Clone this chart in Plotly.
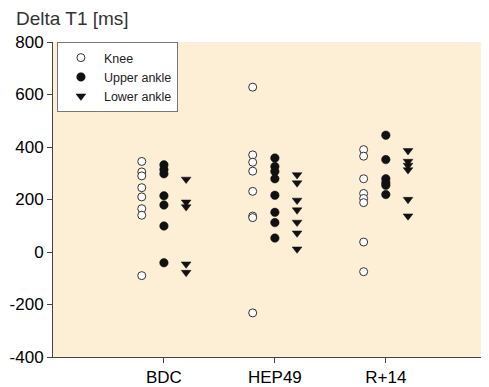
import plotly.graph_objects as go

categories = ["BDC", "HEP49", "R+14"]
y_ticks = [-400, -200, 0, 200, 400, 600, 800]
y_tick_labels = ["-400", "-200", "0", "200", "400", "600", "800"]
knee = [
    [345, 305, 290, 245, 210, 165, 140, -90],
    [628, 370, 342, 308, 231, 137, 131, -232],
    [390, 365, 279, 223, 204, 188, 38, -75],
]
upper_ankle = [
    [332, 314, 298, 214, 179, 99, -41],
    [358, 326, 307, 279, 216, 151, 112, 53],
    [445, 352, 279, 264, 254, 219],
]
lower_ankle = [
    [277, 190, 172, -46, -78],
    [294, 263, 197, 160, 113, 72, 11],
    [386, 345, 330, 313, 200, 137],
]
offsets = {"Knee": -0.2, "Upper ankle": 0.0, "Lower ankle": 0.2}

def flatten(series, off):
    xs, ys = [], []
    for i, vals in enumerate(series):
        xs += [i + off] * len(vals)
        ys += vals
    return xs, ys

fig = go.Figure()
specs = [
    ("Knee", knee, dict(symbol="circle", size=8, color="white", line=dict(color="#333", width=1))),
    ("Upper ankle", upper_ankle, dict(symbol="circle", size=8.5, color="#111", line=dict(color="#111", width=0.5))),
    ("Lower ankle", lower_ankle, dict(symbol="triangle-down", size=8.5, color="#111", line=dict(color="#111", width=0.5))),
]
for name, series, marker in specs:
    xs, ys = flatten(series, offsets[name])
    fig.add_trace(go.Scatter(x=xs, y=ys, mode="markers", name=name, marker=marker))

# page body has an 8px margin; figure is sized/offset to compensate
fig.update_layout(
    width=481, height=379,
    margin=dict(l=45, r=0, t=34, b=26),
    paper_bgcolor="white",
    plot_bgcolor="#FDEFD6",
    font=dict(family="Liberation Sans, Arial, sans-serif", color="black"),
    showlegend=True,
    legend=dict(x=0.009, y=1.0, xanchor="left", yanchor="top",
                bgcolor="white", bordercolor="#777", borderwidth=1,
                font=dict(size=12.5, color="#222"), tracegroupgap=0,
                itemwidth=36),
    annotations=[dict(text="Delta T1 [ms]", xref="paper", yref="paper",
                      x=-0.0894, y=1.0, xanchor="left", yanchor="bottom",
                      yshift=11, showarrow=False,
                      font=dict(size=19, color="#333"))],
)
fig.update_xaxes(range=[-1, 2.93], tickvals=[0, 1, 2], ticktext=categories,
                 showgrid=False, zeroline=False, showline=True, linecolor="#444",
                 ticks="outside", ticklen=5, tickcolor="#444",
                 tickfont=dict(size=17, color="black"))
fig.update_yaxes(range=[-400, 800], tickvals=y_ticks, ticktext=y_tick_labels,
                 showgrid=False, zeroline=False, showline=True, linecolor="#444",
                 ticks="outside", ticklen=5, tickcolor="#444",
                 tickfont=dict(size=17, color="black"))

fig.write_html("out.html")
